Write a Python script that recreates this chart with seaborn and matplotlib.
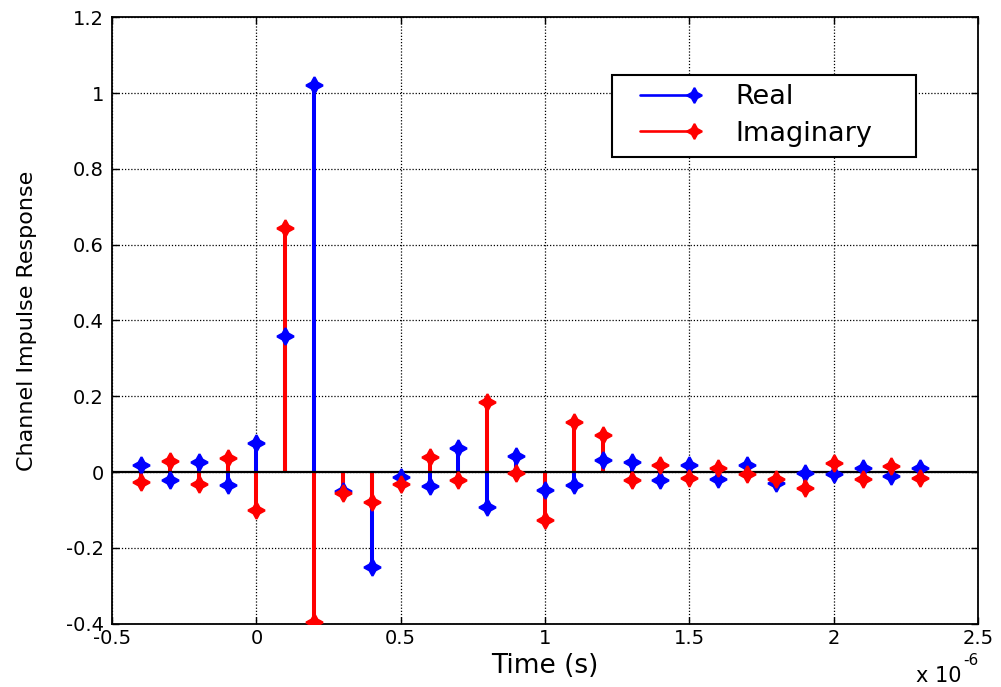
import numpy as np
import matplotlib
matplotlib.use("Agg")
import matplotlib.pyplot as plt
import seaborn as sns
from matplotlib.lines import Line2D
from matplotlib.patches import Rectangle
from matplotlib.legend_handler import HandlerLine2D

# ---- data ----
time_us = [-0.4, -0.3, -0.2, -0.1, 0.0, 0.1, 0.2, 0.3, 0.4, 0.5, 0.6, 0.7, 0.8, 0.9,
           1.0, 1.1, 1.2, 1.3, 1.4, 1.5, 1.6, 1.7, 1.8, 1.9, 2.0, 2.1, 2.2, 2.3]
real_part = [0.020, -0.020, 0.027, -0.035, 0.077, 0.360, 1.020, -0.050, -0.250, -0.012,
             -0.037, 0.063, -0.092, 0.043, -0.048, -0.035, 0.033, 0.027, -0.021, 0.018,
             -0.017, 0.018, -0.029, -0.001, -0.005, 0.010, -0.009, 0.010]
imag_part = [-0.025, 0.030, -0.030, 0.037, -0.100, 0.645, -0.395, -0.056, -0.078, -0.030,
             0.040, -0.020, 0.186, -0.003, -0.127, 0.133, 0.097, -0.020, 0.019, -0.015,
             0.011, -0.006, -0.019, -0.042, 0.023, -0.018, 0.015, -0.015]
series_names = ["Real", "Imaginary"]
series_colors = ["#0000ff", "#ff0000"]
xtick_vals = [-0.5, 0, 0.5, 1, 1.5, 2, 2.5]
xtick_labels = ["-0.5", "0", "0.5", "1", "1.5", "2", "2.5"]
ytick_vals = [-0.4, -0.2, 0, 0.2, 0.4, 0.6, 0.8, 1, 1.2]
ytick_labels = ["-0.4", "-0.2", "0", "0.2", "0.4", "0.6", "0.8", "1", "1.2"]

sns.set_style("white")
plt.rcParams["font.family"] = ["DejaVu Sans"]
plt.rcParams["text.color"] = "black"
plt.rcParams["axes.labelcolor"] = "black"

fig = plt.figure(figsize=(10.01, 6.87), dpi=100)
ax = fig.add_axes([0.112, 0.092, 0.865, 0.883])

t = np.array(time_us)
mk = (4, 1, 0)
for vals, col, z in zip([real_part, imag_part], series_colors, [2, 2.1]):
    ax.vlines(t, 0, vals, colors=col, linewidth=2.9, zorder=z)
for vals, col, z in zip([real_part, imag_part], series_colors, [3, 3.1]):
    ax.plot(t, vals, linestyle="none", marker=mk, markersize=12, color=col,
            markeredgecolor=col, markeredgewidth=1.6, zorder=z)

ax.axhline(0, color="black", linewidth=1.6, zorder=2.5)

ax.set_xlim(-0.5, 2.5)
ax.set_ylim(-0.4, 1.2)
ax.set_xticks(xtick_vals)
ax.set_xticklabels(xtick_labels)
ax.set_yticks(ytick_vals)
ax.set_yticklabels(ytick_labels)
ax.tick_params(direction="in", length=5, width=1, labelsize=14, colors="black",
               labelcolor="black", top=True, right=True, bottom=True, left=True)
ax.tick_params(axis="y", pad=6)
ax.tick_params(axis="x", pad=4)
ax.grid(True, color="black", linestyle=(0, (1, 1.5)), linewidth=0.9)
for s in ax.spines.values():
    s.set_color("black")
    s.set_linewidth(1.3)

ax.set_xlabel("Time (s)", fontsize=19, color="black")
ax.set_ylabel("Channel Impulse Response", fontsize=16, color="black")
ax.xaxis.set_label_coords(0.5, -0.048)
ax.yaxis.set_label_coords(-0.087, 0.5)

# x 10^-6 multiplier
fig.text(0.961, 0.002, "x 10", ha="right", va="bottom", fontsize=15, color="black")
fig.text(0.962, 0.028, "-6", ha="left", va="bottom", fontsize=11, color="black")


class EndMarkerHandler(HandlerLine2D):
    def create_artists(self, legend, orig_handle, xdescent, ydescent, width, height,
                       fontsize, trans):
        arts = super().create_artists(legend, orig_handle, xdescent, ydescent, width,
                                      height, fontsize, trans)
        for a in arts:
            if a.get_marker() not in (None, "None", "none", ""):
                a.set_markevery([len(a.get_xdata()) - 1])
        return arts


W, H = 1001.0, 687.0
handles = [Line2D([], [], color=c, linewidth=1.9, marker=mk, markersize=11,
                  markeredgewidth=1.4) for c in series_colors]
leg = ax.legend(handles, series_names, loc="upper left",
                bbox_to_anchor=(632 / W, 1 - 84 / H), bbox_transform=fig.transFigure,
                prop={"size": 19.5}, frameon=False, handlelength=2.6,
                handletextpad=1.2, borderpad=0, borderaxespad=0, labelspacing=0.4,
                numpoints=2, handler_map={Line2D: EndMarkerHandler(numpoints=2)})
frame = Rectangle((612 / W, 1 - 157 / H), 304 / W, 82 / H, transform=fig.transFigure,
                  facecolor="white", edgecolor="black", linewidth=1.5, zorder=4.5)
ax.add_artist(frame)
frame.set_clip_on(False)
leg.set_zorder(5)

fig.savefig("out.png", dpi=100)
